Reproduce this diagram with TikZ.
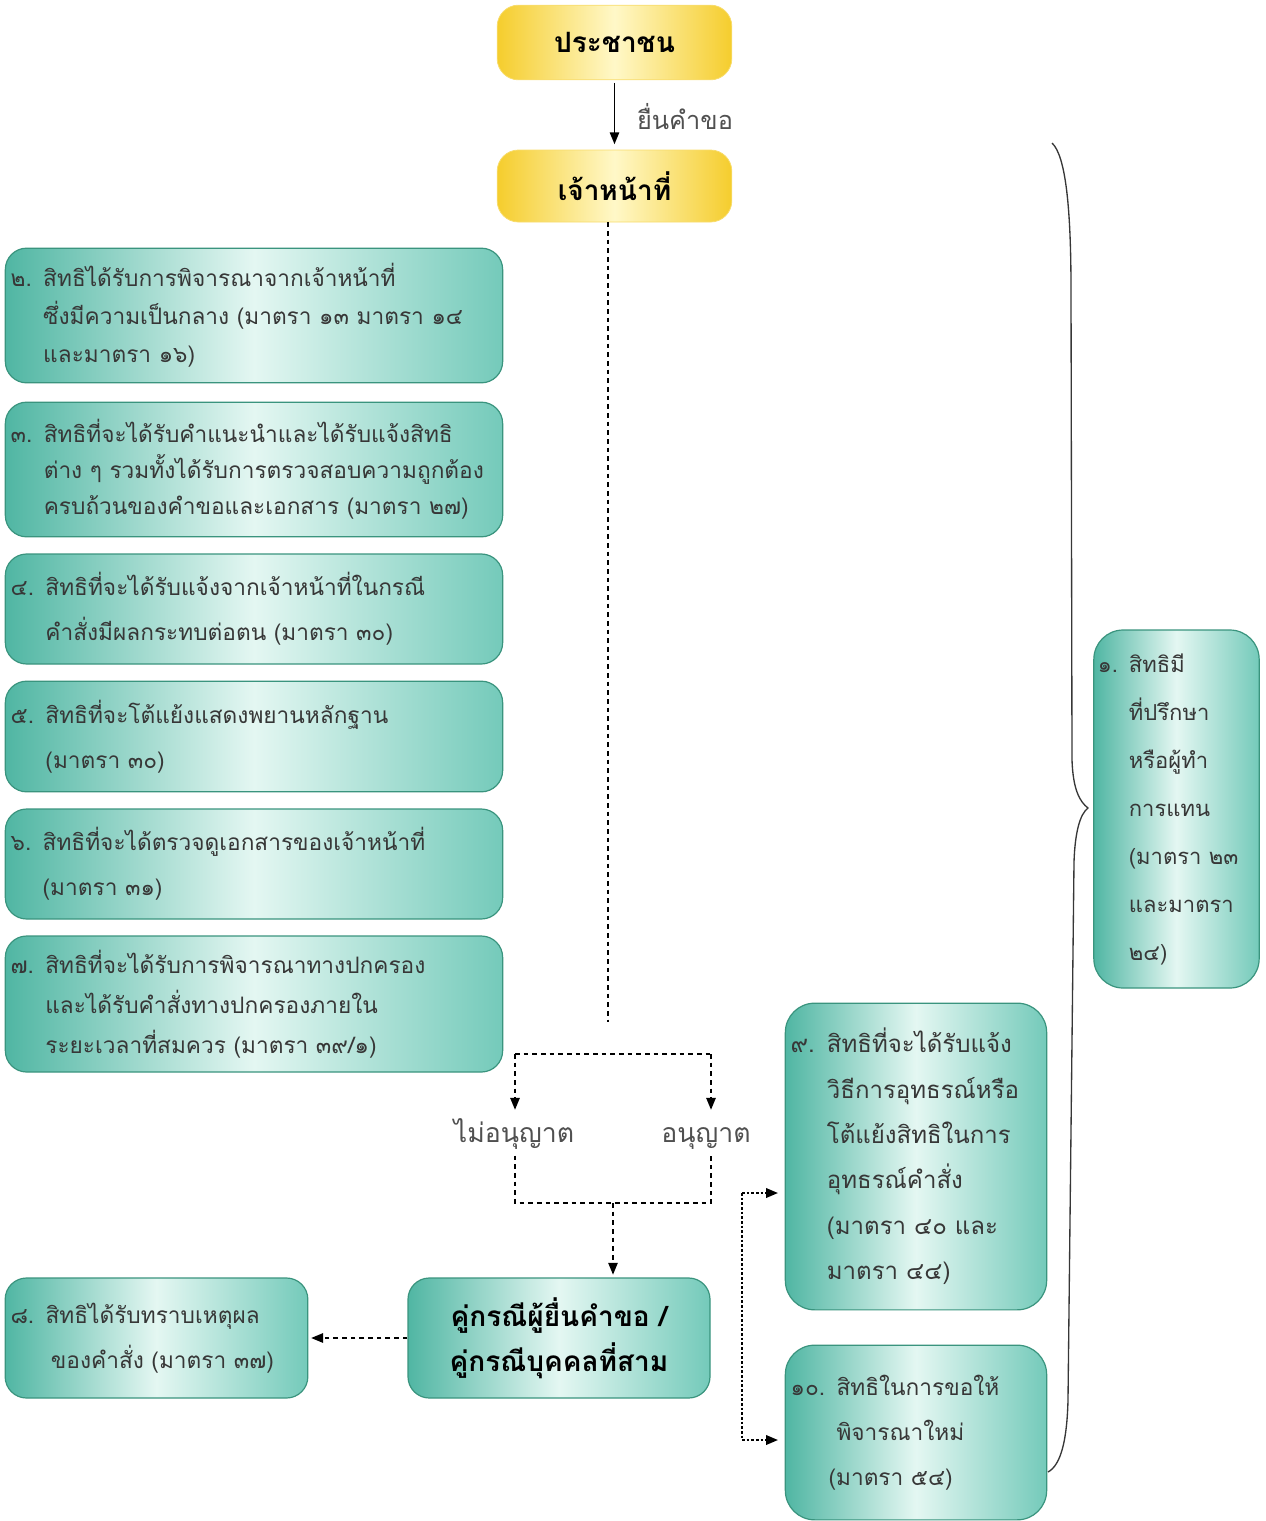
\documentclass[tikz,border=0pt]{standalone}
\usepackage{fontspec}
\newfontfamily\thaifont[Script=Thai]{Loma}
\usetikzlibrary{arrows.meta}
\definecolor{tealdark}{RGB}{80,182,163}
\definecolor{tealright}{RGB}{116,202,186}
\definecolor{teallight}{RGB}{228,247,242}
\definecolor{tealedge}{RGB}{58,148,126}
\definecolor{golddark}{RGB}{245,205,45}
\definecolor{goldlight}{RGB}{255,248,200}
\definecolor{inkgray}{RGB}{55,55,55}
\definecolor{lblgray}{RGB}{80,80,80}
\newcommand\boxfont[2]{\thaifont\fontsize{#1}{#2}\selectfont}
\tikzset{every picture/.style={line width=0.75pt}}

\begin{document}
\begin{tikzpicture}[x=0.75pt,y=0.75pt,yscale=-1,xscale=1,
  rightbox/.style={draw=tealedge, line width=0.9pt, rounded corners=16pt,
    left color=tealdark, right color=tealright, middle color=teallight,
    inner xsep=4pt, inner ysep=0pt, align=left, text=inkgray},
  leftbox/.style={rightbox, text width=365pt, font=\boxfont{17}{#1}},
  goldbox/.style={draw=golddark!70!white, line width=0.6pt, rounded corners=16pt,
    left color=golddark, right color=golddark, middle color=goldlight,
    minimum width=176pt, minimum height=56pt, inner sep=0pt,
    font=\thaifont\bfseries\fontsize{21}{24}\selectfont},
  lbl/.style={inner sep=0.75pt, text=lblgray, font=\thaifont\fontsize{19}{22}\selectfont},
  choice/.style={lbl, anchor=base, text height=17pt, text depth=5pt,
    font=\thaifont\fontsize{20}{22}\selectfont},
  solidarrow/.style={line width=1.4pt, -{Triangle[length=9pt,width=7pt]}},
  dashline/.style={line width=1.4pt, dash pattern={on 3.5pt off 3pt}},
  dasharrow/.style={dashline, -{Triangle[length=9pt,width=7pt]}},
  dotline/.style={line width=1.8pt, dash pattern={on 2pt off 1.5pt}},
  dotarrow/.style={dotline, -{Triangle[length=9pt,width=7pt]}}
]
\useasboundingbox (0,0) rectangle (1265,1521);

% top boxes
\node [goldbox] (people) at (614.5,42.5) {ประชาชน};
\node [goldbox, minimum height=54pt] (officer) at (614.5,186) {เจ้าหน้าที่};
\node [lbl] (submit) at (685,117) {ยื่นคำขอ};
\draw [solidarrow, shorten <=2pt, shorten >=4pt] (people) -- (officer);

% left column of rights
\node [leftbox=28.5pt, minimum height=101pt] (right2) at (254,315.5)
  {๒. สิทธิได้รับการพิจารณาจากเจ้าหน้าที่\\
   \phantom{๒. }ซึ่งมีความเป็นกลาง (มาตรา ๑๓ มาตรา ๑๔\\
   \phantom{๒. }และมาตรา ๑๖)};
\node [leftbox=27pt, minimum height=101pt] (right3) at (254,469.5)
  {๓. สิทธิที่จะได้รับคำแนะนำและได้รับแจ้งสิทธิ\\
   \phantom{๓. }ต่าง ๆ รวมทั้งได้รับการตรวจสอบความถูกต้อง\\
   \phantom{๓. }ครบถ้วนของคำขอและเอกสาร (มาตรา ๒๗)};
\node [leftbox=33.75pt, minimum height=82.5pt] (right4) at (254,609)
  {๔. สิทธิที่จะได้รับแจ้งจากเจ้าหน้าที่ในกรณี\\
   \phantom{๔. }คำสั่งมีผลกระทบต่อตน (มาตรา ๓๐)};
\node [leftbox=33.75pt, minimum height=83pt] (right5) at (254,736.5)
  {๕. สิทธิที่จะโต้แย้งแสดงพยานหลักฐาน\\
   \phantom{๕. }(มาตรา ๓๐)};
\node [leftbox=33.75pt, minimum height=82.5pt] (right6) at (254,864)
  {๖. สิทธิที่จะได้ตรวจดูเอกสารของเจ้าหน้าที่\\
   \phantom{๖. }(มาตรา ๓๑)};
\node [leftbox=30pt, minimum height=102pt] (right7) at (254,1004)
  {๗. สิทธิที่จะได้รับการพิจารณาทางปกครอง\\
   \phantom{๗. }และได้รับคำสั่งทางปกครองภายใน\\
   \phantom{๗. }ระยะเวลาที่สมควร (มาตรา ๓๙/๑)};

% decision
\coordinate (vend) at (608,1022);
\draw [dashline] (officer.south -| vend) -- (vend);
\coordinate (fl) at (515,1054);
\coordinate (fr) at (711,1054);
\node [choice] (deny) at (514,1142) {ไม่อนุญาต};
\node [choice] (allow) at (706,1142) {อนุญาต};
\draw [dashline] (fl) -- (fr);
\draw [dasharrow, shorten >=6pt] (fl) -- (fl |- deny.north);
\draw [dasharrow, shorten >=6pt] (fr) -- (fr |- allow.north);
\coordinate (gl) at (515,1203);
\coordinate (gr) at (711,1203);
\coordinate (gm) at (613,1203);
\draw [dashline, shorten <=4pt, shorten >=4pt] (fl |- deny.south) -- (gl) -- (gr) -- (fr |- allow.south);

% parties
\node [rightbox, minimum width=226.5pt, minimum height=90pt, align=center, text=black,
  font=\thaifont\bfseries\fontsize{21}{33.75}\selectfont] (party) at (559,1338)
  {คู่กรณีผู้ยื่นคำขอ /\\ คู่กรณีบุคคลที่สาม};
\draw [dasharrow, shorten >=2pt] (gm) -- (gm |- party.north);
\node [rightbox, text width=219pt, minimum height=90pt, font=\boxfont{17}{33.75pt}] (right8) at (156.5,1338)
  {๘. สิทธิได้รับทราบเหตุผล\\
   \phantom{๘. }\hspace{4pt}ของคำสั่ง (มาตรา ๓๗)};
\draw [dasharrow, shorten >=2pt] (party.west) -- (right8.east);

% right column
\node [rightbox, text width=188pt, minimum height=230pt, rounded corners=22pt, font=\boxfont{18}{34pt}] (right9) at (916,1156.5)
  {๙. สิทธิที่จะได้รับแจ้ง\\
   \phantom{๙. }วิธีการอุทธรณ์หรือ\\
   \phantom{๙. }โต้แย้งสิทธิในการ\\
   \phantom{๙. }อุทธรณ์คำสั่ง\\
   \phantom{๙. }(มาตรา ๔๐ และ\\
   \phantom{๙. }มาตรา ๔๔)};
\node [rightbox, text width=188pt, minimum height=131pt, rounded corners=22pt, font=\boxfont{17}{33.75pt}] (right10) at (916,1432.5)
  {๑๐. สิทธิในการขอให้\\
   \phantom{๑๐. }พิจารณาใหม่\\
   \phantom{๑๐. }\hspace{-6pt}(มาตรา ๕๔)};
\coordinate (dt) at (742,1193);
\coordinate (db) at (742,1440);
\draw [dotline] (dt) -- (db);
\draw [dotarrow, shorten >=5pt] (dt) -- (dt -| right9.west);
\draw [dotarrow, shorten >=5pt] (db) -- (db -| right10.west);

\node [rightbox, text width=118pt, inner xsep=3pt, minimum height=268.5pt, rounded corners=22pt, font=\boxfont{16.5}{36pt}] (right1) at (1176.5,809)
  {๑. สิทธิมี\\
   \phantom{๑. }ที่ปรึกษา\\
   \phantom{๑. }หรือผู้ทำ\\
   \phantom{๑. }การแทน\\
   \phantom{๑. }(มาตรา~๒๓\\
   \phantom{๑. }และมาตรา\\
   \phantom{๑. }๒๔)};

% brace
\draw [line width=1pt, inkgray] (1052,143) .. controls (1066,156) and (1071,210) .. (1071,290)
  -- (1072,760) .. controls (1073,790) and (1080,802) .. (1088,808)
  .. controls (1080,814) and (1075,832) .. (1074,862)
  -- (1068,1400) .. controls (1067,1440) and (1061,1465) .. (1048,1472);

\end{tikzpicture}
\end{document}
